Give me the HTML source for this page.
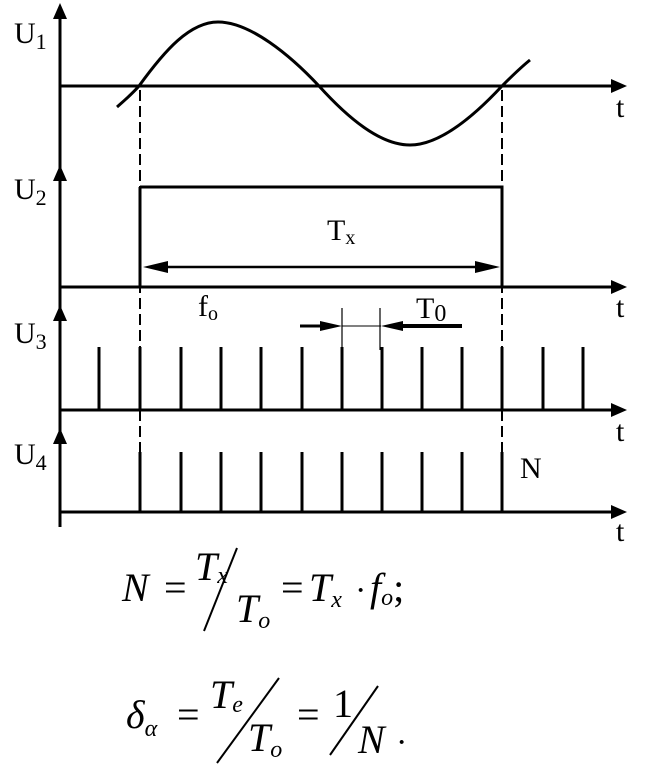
<!DOCTYPE html>
<html><head><meta charset="utf-8"><style>
html,body{margin:0;padding:0;background:#fff;}
svg{display:block;}
text{font-family:"Liberation Serif",serif;fill:#000;}
</style></head><body>
<svg width="646" height="773" viewBox="0 0 646 773" xmlns="http://www.w3.org/2000/svg">
<g stroke="#000" stroke-width="3" fill="none">
<line x1="60" y1="10" x2="60" y2="527"/>
<line x1="60" y1="86" x2="615" y2="86"/>
<line x1="60" y1="287" x2="615" y2="287"/>
<line x1="60" y1="410" x2="615" y2="410"/>
<line x1="60" y1="512" x2="615" y2="512"/>
<path d="M117,107 C125,100 132,94 139,86 C165,50 190,22 218,22 C250,22 290,55 319,86 C348,118 380,145 410,145 C440,145 475,115 502,86 C512,76 520,68 530,60"/>
<path d="M140,187 L140,287 M140,187 L502,187 L502,287"/>
<line x1="155" y1="267" x2="490" y2="267" stroke-width="2.5"/>
</g>
<g stroke="#000" stroke-width="2" stroke-dasharray="11,5">
<line x1="140" y1="90" x2="140" y2="512"/>
<line x1="502" y1="90" x2="502" y2="512"/>
</g>
<g fill="#000">
<polygon points="60,3 53,19 67,19"/>
<polygon points="60,165 53,181 67,181"/>
<polygon points="60,305 53,321 67,321"/>
<polygon points="60,428 53,444 67,444"/>
<polygon points="627,86 611,79 611,93"/>
<polygon points="627,287 611,280 611,294"/>
<polygon points="627,410 611,403 611,417"/>
<polygon points="627,512 611,505 611,519"/>
<polygon points="143,267 168,261 168,273"/>
<polygon points="500,267 475,261 475,273"/>
<polygon points="342,326 320,321 320,331"/>
<polygon points="381,326 403,321 403,331"/>
</g>
<g stroke="#000" fill="none">
<line x1="300" y1="326" x2="322" y2="326" stroke-width="3"/>
<line x1="401" y1="326" x2="462" y2="326" stroke-width="4"/>
<line x1="342" y1="326" x2="381" y2="326" stroke-width="1"/>
<line x1="342" y1="308" x2="342" y2="350" stroke-width="1.2"/>
<line x1="380" y1="308" x2="380" y2="350" stroke-width="1.2"/>
</g>
<g stroke="#000" stroke-width="3">
<line x1="99" y1="347" x2="99" y2="410"/><line x1="140" y1="347" x2="140" y2="410"/>
<line x1="181" y1="347" x2="181" y2="410"/><line x1="221" y1="347" x2="221" y2="410"/>
<line x1="261" y1="347" x2="261" y2="410"/><line x1="302" y1="347" x2="302" y2="410"/>
<line x1="342" y1="347" x2="342" y2="410"/><line x1="382" y1="347" x2="382" y2="410"/>
<line x1="422" y1="347" x2="422" y2="410"/><line x1="462" y1="347" x2="462" y2="410"/>
<line x1="502" y1="347" x2="502" y2="410"/><line x1="543" y1="347" x2="543" y2="410"/>
<line x1="583" y1="347" x2="583" y2="410"/>
<line x1="140" y1="452" x2="140" y2="512"/><line x1="181" y1="452" x2="181" y2="512"/>
<line x1="221" y1="452" x2="221" y2="512"/><line x1="261" y1="452" x2="261" y2="512"/>
<line x1="302" y1="452" x2="302" y2="512"/><line x1="342" y1="452" x2="342" y2="512"/>
<line x1="382" y1="452" x2="382" y2="512"/><line x1="422" y1="452" x2="422" y2="512"/>
<line x1="462" y1="452" x2="462" y2="512"/><line x1="502" y1="452" x2="502" y2="512"/>
</g>
<g font-size="30">
<text x="14" y="43">U<tspan font-size="22" dy="6">1</tspan></text>
<text x="14" y="199">U<tspan font-size="22" dy="6">2</tspan></text>
<text x="14" y="343">U<tspan font-size="22" dy="6">3</tspan></text>
<text x="14" y="464">U<tspan font-size="22" dy="6">4</tspan></text>
<text x="616" y="117">t</text><text x="616" y="317">t</text>
<text x="616" y="441">t</text><text x="616" y="541">t</text>
<text x="327" y="240">T<tspan font-size="20" dy="4">x</tspan></text>
<text x="198" y="316">f<tspan font-size="20" dy="4">o</tspan></text>
<text x="416" y="318">T<tspan font-size="24" dy="3">0</tspan></text>
<text x="520" y="478">N</text>
</g>
<g font-style="italic" font-size="40">
<text x="122" y="601">N</text>
<text x="164" y="601" font-style="normal">=</text>
<text x="195" y="580">T<tspan font-size="24" dy="3">x</tspan></text>
<text x="236" y="622">T<tspan font-size="24" dy="6">o</tspan></text>
<text x="281" y="601" font-style="normal">=</text>
<text x="309" y="601">T<tspan font-size="24" dy="6">x</tspan></text>
<text x="355" y="601" font-style="normal" font-size="34">·</text>
<text x="370" y="601">f<tspan font-size="24" dy="4">o</tspan><tspan dy="-4" font-style="normal">;</tspan></text>
<text x="126" y="728">δ<tspan font-size="24" dy="8">α</tspan></text>
<text x="177" y="728" font-style="normal">=</text>
<text x="210" y="708">T<tspan font-size="24" dy="4">e</tspan></text>
<text x="248" y="751">T<tspan font-size="24" dy="6">o</tspan></text>
<text x="297" y="728" font-style="normal">=</text>
<text x="333" y="717" font-style="normal">1</text>
<text x="358" y="753">N</text>
<text x="396" y="753" font-style="normal" font-size="34">·</text>
</g>
<g stroke="#000" stroke-width="2">
<line x1="204" y1="631" x2="237" y2="548"/>
<line x1="217" y1="763" x2="279" y2="678"/>
<line x1="330" y1="755" x2="378" y2="686"/>
</g>
</svg>
</body></html>
